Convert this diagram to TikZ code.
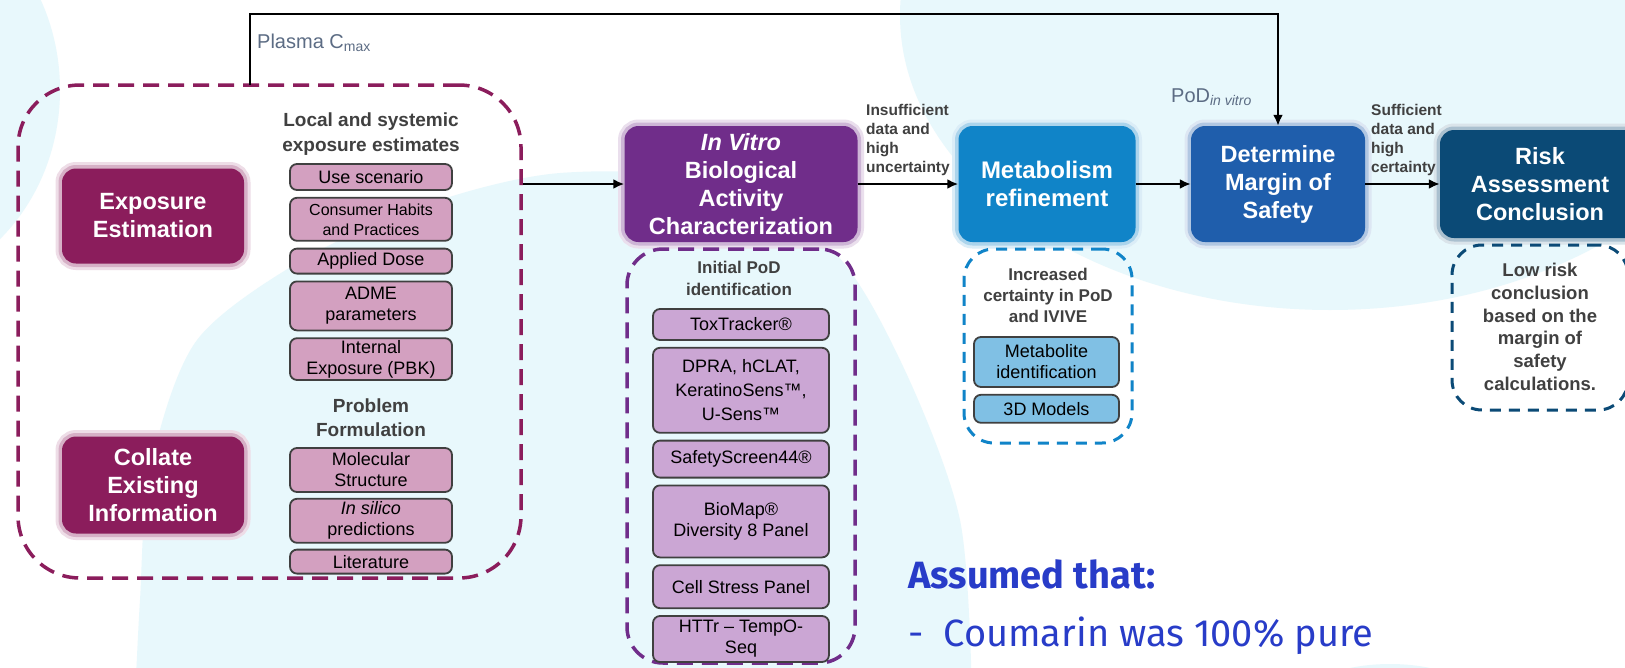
\documentclass[tikz,border=0pt]{standalone}
\usepackage{fontspec}
\setmainfont{Liberation Sans}
\newfontfamily\firafont{Fira Sans}
\usepackage{tikz}
\usetikzlibrary{positioning, arrows.meta}
\usepackage{xcolor}

\definecolor{bgcyan}{RGB}{232,248,252}
\definecolor{expcol}{RGB}{139,29,92}
\definecolor{expfill}{RGB}{211,160,192}
\definecolor{vitrocol}{RGB}{112,45,138}
\definecolor{vitrofill}{RGB}{203,166,212}
\definecolor{metabcol}{RGB}{16,132,200}
\definecolor{metabfill}{RGB}{128,192,228}
\definecolor{margincol}{RGB}{31,94,172}
\definecolor{riskcol}{RGB}{11,74,118}
\definecolor{headgray}{RGB}{64,64,64}
\definecolor{labgray}{RGB}{92,108,132}
\definecolor{assumeblue}{RGB}{40,60,200}

\begin{document}
\begin{tikzpicture}[x=1pt, y=-1pt,
        mainbox/.style={fill=#1, text=white, rounded corners=14pt,
          preaction={draw=#1!15, line width=13pt}, preaction={draw=#1!35, line width=7pt},
          align=center, inner sep=0pt, font={\fontsize{23.5}{28}\selectfont\bfseries}},
        groupbox/.style={draw=#1, line width=3.5pt, dash pattern=on 16pt off 9pt, inner sep=0pt},
        itembox/.style={fill=#1, draw=black!75, line width=1.8pt, rounded corners=7pt, align=center,
          inner sep=2pt, font={\fontsize{18}{21}\selectfont}},
        headtext/.style={text=headgray, align=center, inner sep=0pt, font={\fontsize{19}{25}\selectfont\bfseries}},
        flowtext/.style={text=headgray, align=left, inner sep=0pt, font={\fontsize{15.5}{19}\selectfont\bfseries}},
        labeltext/.style={text=labgray, inner sep=0pt, font={\fontsize{20}{24}\selectfont}},
        assumetext/.style={text=assumeblue, inner sep=0pt, font={\firafont\fontsize{38}{44}\selectfont}},
        flow/.style={line width=2.5pt, -{Latex[length=11pt, width=10pt]}}]
        \useasboundingbox (0,0) rectangle (1625,667);
        \clip (0,0) rectangle (1625,667);
        \fill[white] (0,0) rectangle (1625,667);
        \fill[bgcyan] (-120,90) ellipse [x radius=180pt, y radius=200pt];
        \fill[bgcyan] (1330,15) ellipse [x radius=430pt, y radius=295pt];
        \fill[bgcyan] (1390,722) ellipse [x radius=110pt, y radius=58pt];
        \fill[bgcyan] plot[smooth] coordinates {(135,700) (140,600) (150,470) (197,340) (311,255) (440,200)
          (560,173) (700,180) (829,247) (901,362) (960,520) (972,700)} -- cycle;

        \node[groupbox=expcol, rounded corners=62pt, minimum width=503pt, minimum height=493pt] (expgroup) at (269.5,331.5) {};
        \node[mainbox=expcol, minimum width=182pt, minimum height=95pt] (expo) at (153,216) {Exposure\\Estimation};
        \node[mainbox=expcol, minimum width=182pt, minimum height=97pt] (collate) at (153,485) {Collate\\Existing\\Information};
        \node[headtext] (exphead) at (371,134) {Local and systemic\\exposure estimates};
        \node[itembox=expfill, minimum width=162pt, minimum height=26pt] (usescen) at (371,177) {Use scenario};
        \node[itembox=expfill, minimum width=162pt, minimum height=43pt, below=6pt of usescen,
          font={\fontsize{16}{20}\selectfont}] (habits) {Consumer Habits\\and Practices};
        \node[itembox=expfill, minimum width=162pt, minimum height=25pt, below=6pt of habits] (dose) {Applied Dose};
        \node[itembox=expfill, minimum width=162pt, minimum height=49pt, below=6pt of dose] (adme) {ADME\\parameters};
        \node[itembox=expfill, minimum width=162pt, minimum height=41pt, below=6pt of adme] (internal) {Internal\\Exposure (PBK)};
        \node[headtext, font={\fontsize{19}{24}\selectfont\bfseries}] (probhead) at (371,418) {Problem\\Formulation};
        \node[itembox=expfill, minimum width=162pt, minimum height=44pt] (molecular) at (371,470) {Molecular\\Structure};
        \node[itembox=expfill, minimum width=162pt, minimum height=44pt, below=5pt of molecular] (insilico) {\textit{In silico}\\predictions};
        \node[itembox=expfill, minimum width=162pt, minimum height=24pt, below=5pt of insilico] (literature) {Literature};

        \node[mainbox=vitrocol, minimum width=233pt, minimum height=116pt] (vitro) at (741,184) {\textit{In Vitro}\\Biological\\Activity\\Characterization};
        \node[groupbox=vitrocol, rounded corners=36pt, minimum width=228pt, minimum height=414pt] (vitrogroup) at (741,456) {};
        \node[headtext, font={\fontsize{17}{22}\selectfont\bfseries}] (vitrohead) at (739,278) {Initial PoD\\identification};
        \node[itembox=vitrofill, minimum width=176pt, minimum height=31pt] (toxtracker) at (741,324.5) {ToxTracker®};
        \node[itembox=vitrofill, minimum width=176pt, minimum height=85pt, below=6pt of toxtracker,
          font={\fontsize{18}{24}\selectfont}] (dpra) {DPRA, hCLAT,\\KeratinoSens™,\\U-Sens™};
        \node[itembox=vitrofill, minimum width=176pt, minimum height=37pt, below=6pt of dpra] (safety) {SafetyScreen44®};
        \node[itembox=vitrofill, minimum width=176pt, minimum height=72pt, below=6pt of safety] (biomap) {BioMap®\\Diversity 8 Panel};
        \node[itembox=vitrofill, minimum width=176pt, minimum height=43pt, below=6pt of biomap] (cellstress) {Cell Stress Panel};
        \node[itembox=vitrofill, minimum width=176pt, minimum height=46pt, below=6pt of cellstress] (httr) {HTTr – TempO-\\Seq};

        \node[mainbox=metabcol, minimum width=177pt, minimum height=116pt, font={\fontsize{24}{28}\selectfont\bfseries}] (metab) at (1047,184) {Metabolism\\refinement};
        \node[groupbox=metabcol, dash pattern=on 11pt off 8pt, line width=3pt, rounded corners=30pt,
          minimum width=168pt, minimum height=194pt] (metabgroup) at (1048,346) {};
        \node[headtext, font={\fontsize{17}{21}\selectfont\bfseries}] (metabhead) at (1048,295) {Increased\\certainty in PoD\\and IVIVE};
        \node[itembox=metabfill, minimum width=145pt, minimum height=50pt] (metabolite) at (1046.5,362) {Metabolite\\identification};
        \node[itembox=metabfill, minimum width=145pt, minimum height=28pt, below=6pt of metabolite] (models) {3D Models};

        \node[mainbox=margincol, minimum width=174pt, minimum height=116pt] (margin) at (1278,184) {Determine\\Margin of\\Safety};
        \node[mainbox=riskcol, minimum width=200pt, minimum height=108pt] (risk) at (1540,184) {Risk\\Assessment\\Conclusion};
        \node[groupbox=riskcol, dash pattern=on 11pt off 8pt, line width=3pt, rounded corners=30pt,
          minimum width=176pt, minimum height=165pt] (riskgroup) at (1540,327.5) {};
        \node[headtext, font={\fontsize{18.5}{22.7}\selectfont\bfseries}] (riskhead) at (1540,327) {Low risk\\conclusion\\based on the\\margin of\\safety\\calculations.};

        \node[labeltext, anchor=west] (plasmalab) at (257,43) {Plasma C\textsubscript{max}};
        \node[labeltext, anchor=west] (podlab) at (1171,97) {PoD\textsubscript{\itshape in vitro}};
        \node[flowtext, anchor=west] (insuff) at (866,140) {Insufficient\\data and\\high\\uncertainty};
        \node[flowtext, anchor=west] (suff) at (1371,140) {Sufficient\\data and\\high\\certainty};
        \node[assumetext, anchor=base west, font={\firafont\bfseries\fontsize{38}{44}\selectfont}] (assumed) at (908,588) {Assumed that:};
        \node[assumetext, anchor=base west] (coumarin) at (908,646) {-\hspace{20pt}Coumarin was 100\% pure};

        \coordinate (plasmafoot) at (250,85);
        \coordinate (plasmatop) at (250,14);
        \draw[flow] (plasmafoot) -- (plasmatop) -| (margin.north);
        \draw[flow] (expgroup.east |- vitro.west) -- (vitro.west);
        \draw[flow] (vitro) -- (metab);
        \draw[flow] (metab) -- (margin);
        \draw[flow] (margin) -- (risk);
\end{tikzpicture}
\end{document}
